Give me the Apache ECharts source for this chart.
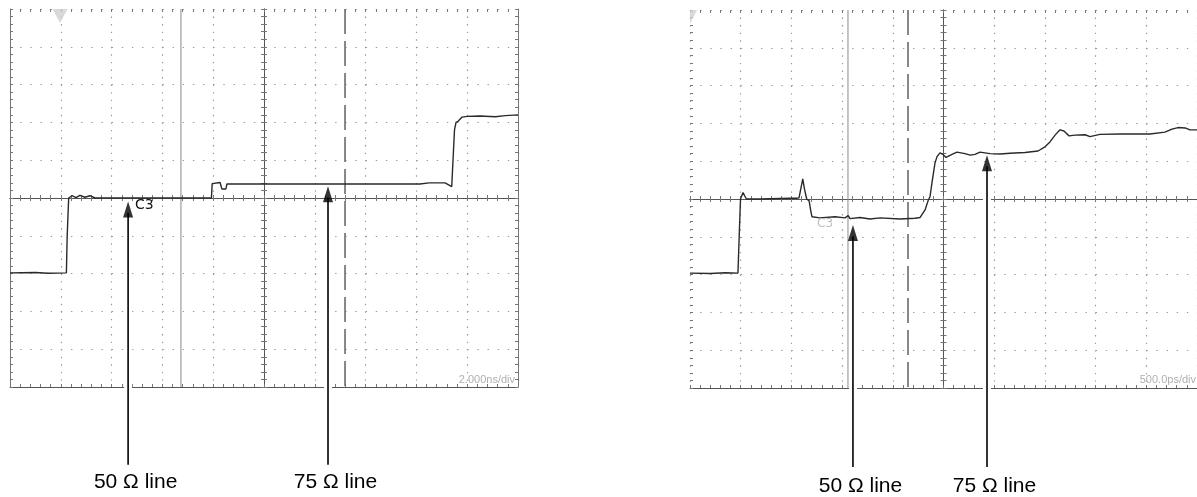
<!DOCTYPE html>
<html><head><meta charset="utf-8">
<script src="https://cdn.jsdelivr.net/npm/echarts@6/dist/echarts.min.js"></script>
<style>html,body{margin:0;padding:0;background:#fff}#c{width:1197px;height:497px}</style>
</head><body><div id="c"></div>
<script>
// ---------- data ----------
// Left screen: 2.000 ns/div, time relative to screen centre (ns); level in divisions
const leftTimeNs = [-10, -9.0, -8.5, -7.78, -7.75, -7.71, -7.69, -7.56, -7.40, -7.25, -7.05, -6.85, -6.65,
  -2.07, -2.04, -2.0, -1.73, -1.66, -1.50, -1.46, 6.14, 6.5, 7.13, 7.39, 7.46, 7.50, 7.56, 7.64, 7.80, 8.0,
  8.5, 9.1, 9.5, 10];
const leftLevelDiv = [-1.98, -1.97, -1.99, -1.98, -1.04, -1.02, 0.0, 0.06, 0.01, 0.07, 0.02, 0.06, 0.0,
  0.0, 0.38, 0.41, 0.41, 0.24, 0.24, 0.37, 0.37, 0.40, 0.40, 0.30, 0.33, 1.80, 2.00, 2.03, 2.14, 2.16,
  2.17, 2.15, 2.18, 2.20];
// Right screen: 500.0 ps/div
const rightTimePs = [-2500,-2300,-2150,-2027,-2015,-2002,-1977,-1960,-1943,-1810,
  -1514,-1445,-1425,-1405,-1388,-1370,-1349,-1325,-1310,-1297,
  -1218,-1070,-971,-940,-922,-823,-725,-626,-429,-281,
  -232,-182,-150,-133,-110,-84,-64,-35,-5,25,
  44,84,133,212,261,311,360,459,557,656,
  804,932,1001,1050,1100,1149,1188,1238,1297,1396,
  1445,1543,1741,1938,2036,2184,2253,2313,2382,2431,
  2500];
const rightLevelDiv = [-1.96,-1.97,-1.95,-1.96,-1.0,0.0,0.17,0.08,0.0,0.0,
  0.02,0.02,0.03,0.3,0.53,0.25,0.0,-0.05,-0.3,-0.47,
  -0.5,-0.47,-0.5,-0.44,-0.52,-0.49,-0.53,-0.5,-0.53,-0.51,
  -0.49,-0.29,-0.03,0.06,0.5,0.95,1.12,1.22,1.18,1.10,
  1.08,1.18,1.24,1.20,1.16,1.18,1.24,1.20,1.19,1.21,
  1.23,1.27,1.38,1.51,1.69,1.83,1.80,1.67,1.69,1.70,
  1.65,1.71,1.72,1.72,1.72,1.77,1.85,1.89,1.88,1.83,
  1.83];
const leftCursorsNs = [-3.27, 3.19];      // solid, dashed
const rightCursorsPs = [-942, -350];
const leftArrowNs = [-5.35, 2.52];
const leftArrowTipDiv = [-0.09, 0.31];
const rightArrowPs = [-893, 429];
const rightArrowTipDiv = [-0.69, 1.16];
const leftArrowTailDiv = -7.06;
const rightArrowTailDiv = -7.09;
const leftTriggerNs = -8.03;
const rightTriggerPs = -2500;
const arrowLabels = ['50 Ω line', '75 Ω line'];
const channelName = 'C3';
const leftScaleText = '2.000ns/div';
const rightScaleText = '500.0ps/div';
const leftRangeNs = [-10, 10, 2];
const rightRangePs = [-2500, 2500, 500];
const levelRange = [-5, 5, 1];

// ---------- chart ----------
const chart = echarts.init(document.getElementById('c'), null, {renderer: 'canvas'});
const grids = [
  {left: 10, top: 9, width: 508, height: 378},
  {left: 690, top: 10, width: 507, height: 378}
];
const tickColor = '#777';
function ticks(inside, show) {
  return {
    axisTick: {show: show !== false, inside: inside, length: 3, lineStyle: {color: tickColor, width: 1}},
    minorTick: {show: show !== false, splitNumber: 5, length: 3, lineStyle: {color: tickColor, width: 1}}
  };
}
const xAxes = [], yAxes = [];
[leftRangeNs, rightRangePs].forEach((r, g) => {
  const gr = grids[g];
  const bx = {gridIndex: g, type: 'value', min: r[0], max: r[1], interval: r[2],
    axisLabel: {show: false}, splitLine: {show: false}, minorSplitLine: {show: false}};
  const by = {gridIndex: g, type: 'value', min: levelRange[0], max: levelRange[1], interval: levelRange[2],
    axisLabel: {show: false}, splitLine: {show: false}, minorSplitLine: {show: false}};
  const vGap = gr.height / 50, hGap = gr.width / 50;
  xAxes.push(
    Object.assign({}, bx, ticks(true), {position: 'bottom',
      axisLine: {show: true, onZero: false, lineStyle: {color: '#555', width: 1}},
      splitLine: {show: true, lineStyle: {color: '#9a9a9a', width: 1.2, type: [1.4, vGap - 1.4]}}}),
    Object.assign({}, bx, ticks(true), {position: 'top', axisLine: {show: false, onZero: false}}),
    Object.assign({}, bx, ticks(false), {position: 'bottom',
      axisLine: {show: true, onZero: true, onZeroAxisIndex: g * 4, lineStyle: {color: '#555', width: 1}}}),
    Object.assign({}, bx, ticks(true), {position: 'bottom',
      axisLine: {show: true, onZero: true, onZeroAxisIndex: g * 4, lineStyle: {color: '#555', width: 1}}})
  );
  yAxes.push(
    Object.assign({}, by, ticks(true), {position: 'left',
      axisLine: {show: g === 0, onZero: false, lineStyle: {color: '#777', width: 1}},
      splitLine: {show: true, lineStyle: {color: '#9a9a9a', width: 1.2, type: [1.4, hGap - 1.4]}}}),
    Object.assign({}, by, ticks(true, g === 0), {position: 'right',
      axisLine: {show: g === 0, onZero: false, lineStyle: {color: '#777', width: 1}}}),
    Object.assign({}, by, ticks(false), {position: 'left',
      axisLine: {show: true, onZero: true, onZeroAxisIndex: g * 4, lineStyle: {color: '#555', width: 1}}}),
    Object.assign({}, by, ticks(true), {position: 'left',
      axisLine: {show: true, onZero: true, onZeroAxisIndex: g * 4, lineStyle: {color: '#555', width: 1}}})
  );
});

function panelSeries(g, xs, ys, cursors, arrowX, arrowTip, tail, trigX) {
  const ai = g * 4;
  const common = {xAxisIndex: ai, yAxisIndex: ai, animation: false, silent: true};
  const s = [];
  s.push(Object.assign({}, common, {type: 'line', symbol: 'none', z: 3,
    data: [[cursors[0], levelRange[1]], [cursors[0], levelRange[0]]],
    lineStyle: {color: '#8a8a8a', width: 1}}));
  s.push(Object.assign({}, common, {type: 'line', symbol: 'none', z: 3,
    data: [[cursors[1], levelRange[1]], [cursors[1], levelRange[0]]],
    lineStyle: {color: '#6a6a6a', width: 1.6, type: [25, 7]}}));
  s.push(Object.assign({}, common, {type: 'line', symbol: 'none', z: 5,
    data: xs.map((x, i) => [x, ys[i]]),
    lineStyle: {color: '#2a2a2a', width: 1.4}}));
  arrowX.forEach((ax, i) => {
    s.push(Object.assign({}, common, {type: 'line', symbol: 'none', z: 6, clip: false,
      data: [[ax, arrowTip[i] - 0.42], [ax, tail]], lineStyle: {color: '#fff', width: 8}}));
    s.push(Object.assign({}, common, {type: 'line', symbol: 'none', z: 7, clip: false,
      data: [[ax, arrowTip[i] - 0.3], [ax, tail]], lineStyle: {color: '#000', width: 1.6}}));
    s.push(Object.assign({}, common, {type: 'scatter', z: 8, clip: false,
      data: [[ax, arrowTip[i]]], symbol: 'triangle', symbolSize: [10, 16], symbolOffset: [0, 8],
      itemStyle: {color: '#000'}}));
  });
  if (g === 0) {
    s.push(Object.assign({}, common, {type: 'scatter', z: 4, clip: false,
      data: [[trigX, levelRange[1]]], symbol: 'triangle', symbolRotate: 180, symbolSize: [15, 14],
      symbolOffset: [0, 7], itemStyle: {color: '#cfcfcf'}}));
  } else {
    s.push(Object.assign({}, common, {type: 'scatter', z: 4, clip: false,
      data: [[trigX, levelRange[1]]], symbol: 'path://M0,0L1,0L0,2Z', symbolSize: [7, 14],
      symbolOffset: [3.5, 7], itemStyle: {color: '#cfcfcf'}}));
  }
  return s;
}

const series = [].concat(
  panelSeries(0, leftTimeNs, leftLevelDiv, leftCursorsNs, leftArrowNs, leftArrowTipDiv, leftArrowTailDiv, leftTriggerNs),
  panelSeries(1, rightTimePs, rightLevelDiv, rightCursorsPs, rightArrowPs, rightArrowTipDiv, rightArrowTailDiv, rightTriggerPs)
);

chart.setOption({
  backgroundColor: '#fff',
  animation: false,
  grid: grids.map(g => Object.assign({outerBoundsMode: 'none', containLabel: false}, g)),
  xAxis: xAxes,
  yAxis: yAxes,
  series: series
});

// ---------- text annotations ----------
const graphics = [];
function txt(x, y, text, opt) {
  graphics.push({type: 'text', x: x, y: y, silent: true, z: 100,
    style: Object.assign({text: text, fill: '#000', textAlign: 'center', align: 'center',
      textVerticalAlign: 'middle', verticalAlign: 'middle',
      font: '21px "Liberation Sans", Arial, sans-serif'}, opt || {})});
}
leftArrowNs.forEach((ax, i) => {
  const p = chart.convertToPixel({xAxisIndex: 0, yAxisIndex: 0}, [ax, leftArrowTailDiv]);
  txt(p[0] + 7.5, p[1] + 17.5, arrowLabels[i]);
});
rightArrowPs.forEach((ax, i) => {
  const p = chart.convertToPixel({xAxisIndex: 4, yAxisIndex: 4}, [ax, rightArrowTailDiv]);
  txt(p[0] + 7.5, p[1] + 19.5, arrowLabels[i]);
});
txt(135, 205.5, channelName, {textAlign: 'left', align: 'left', fill: '#111',
  font: '14px "DejaVu Sans", sans-serif'});
txt(817, 224, channelName, {textAlign: 'left', align: 'left', fill: '#bdbdbd',
  font: '12px "DejaVu Sans", sans-serif'});
txt(515, 379.5, leftScaleText, {textAlign: 'right', align: 'right', fill: '#b0b0b0',
  font: '11px "Liberation Sans", Arial, sans-serif'});
txt(1196, 380, rightScaleText, {textAlign: 'right', align: 'right', fill: '#b0b0b0',
  font: '11px "Liberation Sans", Arial, sans-serif'});
chart.setOption({graphic: graphics});
</script></body></html>
